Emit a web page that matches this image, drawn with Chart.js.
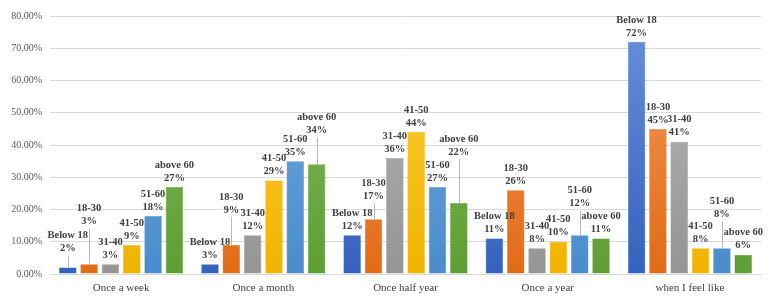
<!DOCTYPE html>
<html>
<head>
<meta charset="utf-8">
<script src="https://cdn.jsdelivr.net/npm/chart.js@4.4.1/dist/chart.umd.min.js"></script>
<style>
  html, body { margin: 0; padding: 0; background: #fff; }
  #wrap { width: 774px; height: 301px; position: relative; }
</style>
</head>
<body>
<div id="wrap"><canvas id="chart_frequency"></canvas></div>
<script>
// frequency by age group, values in percent
var categories = ['Once a week', 'Once a month', 'Once half year', 'Once a year', 'when I feel like'];
var ageGroups = ['Below 18', '18-30', '31-40', '41-50', '51-60', 'above 60'];
var below18   = [2, 3, 12, 11, 72];
var age18to30 = [3, 9, 17, 26, 45];
var age31to40 = [3, 12, 36, 8, 41];
var age41to50 = [9, 29, 44, 10, 8];
var age51to60 = [18, 35, 27, 12, 8];
var above60   = [27, 34, 22, 11, 6];
var yMax = 80;
var yStep = 10;

var seriesValues = [below18, age18to30, age31to40, age41to50, age51to60, above60];
var colorsTop    = ['#6a90da', '#f39a5c', '#b8b8b8', '#ffcf3a', '#74aee0', '#86bd5e'];
var colorsBottom = ['#3562bd', '#e26b16', '#959595', '#f0b400', '#4a8ccc', '#5e9e36'];

// callout labels that Excel moved up with a leader line: [dataset][category] = lift in px
var labelLift = [
    [10, 0, 0, 0, 0],
    [34, 26, 14, 0, 0],
    [0, 0, 0, 0, 0],
    [0, 0, 0, 0, 0],
    [0, 0, 0, 23, 25],
    [0, 25, 42, 0, 0]
];

function gradientFor(i) {
    return function(context) {
        var area = context.chart.chartArea;
        if (!area) return colorsBottom[i];
        var g = context.chart.ctx.createLinearGradient(0, area.top, 0, area.bottom);
        g.addColorStop(0, colorsTop[i]);
        g.addColorStop(1, colorsBottom[i]);
        return g;
    };
}

var datasets = ageGroups.map(function(name, i) {
    return {
        label: name,
        data: seriesValues[i],
        backgroundColor: gradientFor(i),
        borderColor: colorsBottom[i],
        borderWidth: 0.5,
        categoryPercentage: 0.9,
        barPercentage: 0.82
    };
});

var valueLabels = {
    id: 'valueLabels',
    afterDatasetsDraw: function(chart) {
        var ctx = chart.ctx;
        ctx.save();
        ctx.font = 'bold 10.5px "Liberation Serif", "DejaVu Serif", serif';
        ctx.fillStyle = '#404040';
        ctx.textAlign = 'center';
        ctx.textBaseline = 'middle';
        chart.data.datasets.forEach(function(ds, i) {
            var meta = chart.getDatasetMeta(i);
            meta.data.forEach(function(bar, j) {
                var lift = labelLift[i][j] || 0;
                var valueY = bar.y - 9 - lift;
                var nameY = valueY - 13;
                ctx.fillText(ds.label, bar.x, nameY);
                ctx.fillText(ds.data[j] + '%', bar.x, valueY);
                if (lift > 0) {
                    ctx.strokeStyle = '#a6a6a6';
                    ctx.lineWidth = 0.8;
                    ctx.beginPath();
                    ctx.moveTo(Math.round(bar.x) + 0.5, valueY + 7);
                    ctx.lineTo(Math.round(bar.x) + 0.5, bar.y);
                    ctx.stroke();
                }
            });
        });
        ctx.restore();
    }
};

var chart_frequency = new Chart(document.getElementById('chart_frequency'), {
    type: 'bar',
    data: {
        labels: categories,
        datasets: datasets
    },
    options: {
        animation: false,
        responsive: true,
        maintainAspectRatio: false,
        layout: {
            padding: { top: 16, right: 13, left: 0, bottom: 0 }
        },
        plugins: {
            legend: { display: false },
            title: { display: false },
            tooltip: { enabled: false }
        },
        scales: {
            x: {
                grid: { display: false, drawTicks: false },
                border: { display: true, color: '#d9d9d9' },
                ticks: {
                    color: '#404040',
                    padding: 8,
                    font: { family: '"Liberation Serif", "DejaVu Serif", serif', size: 11 }
                },
                afterFit: function(scale) { scale.height = 27; }
            },
            y: {
                min: 0,
                max: yMax,
                grid: { color: '#d9d9d9', drawTicks: false },
                border: { display: false },
                ticks: {
                    stepSize: yStep,
                    color: '#595959',
                    padding: 8,
                    font: { family: '"Liberation Serif", "DejaVu Serif", serif', size: 10 },
                    callback: function(value) { return value.toFixed(2) + '%'; }
                },
                afterFit: function(scale) { scale.width = 50; }
            }
        }
    },
    plugins: [valueLabels]
});
</script>
</body>
</html>
